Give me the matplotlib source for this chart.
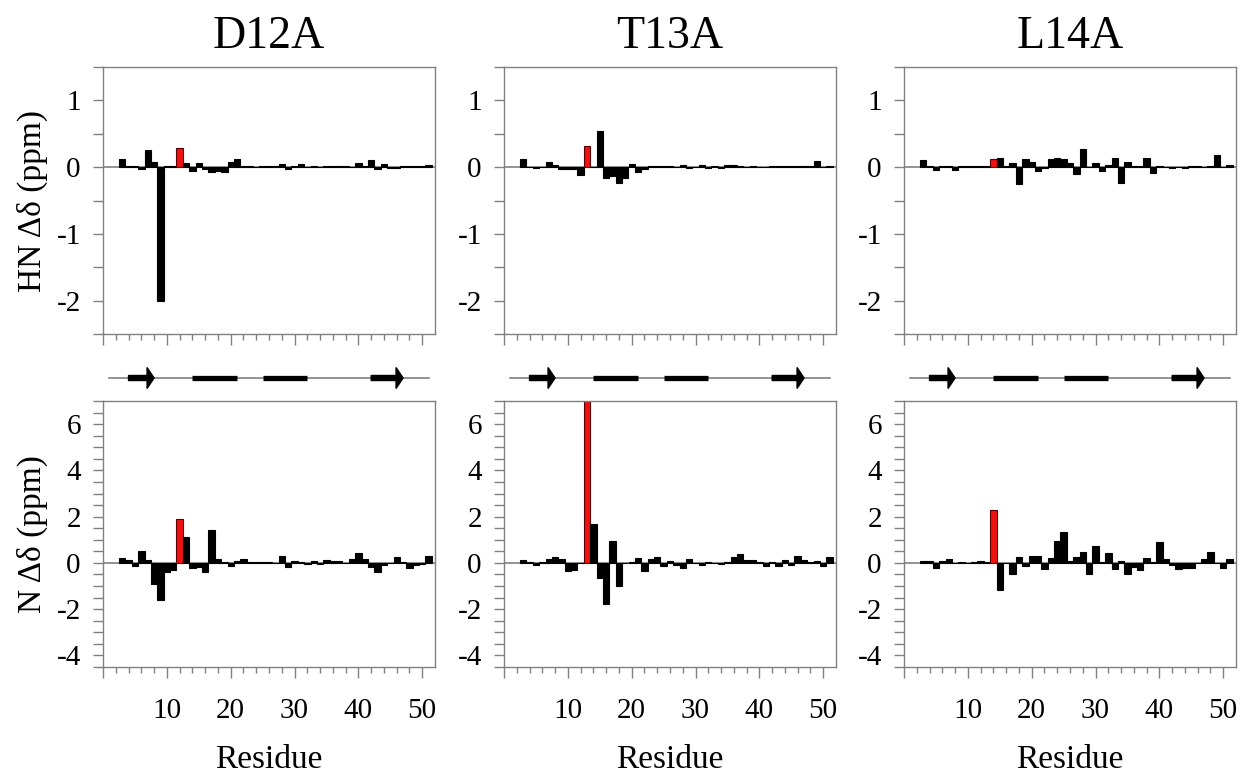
import numpy as np
import matplotlib
matplotlib.use("Agg")
import matplotlib.pyplot as plt
from matplotlib.ticker import MultipleLocator, FixedLocator

plt.rcParams['font.family'] = ['Liberation Serif', 'DejaVu Serif']
plt.rcParams['axes.unicode_minus'] = False  # plain hyphen like the original

# residues 3..51
residues = np.arange(3, 52)
mutants = ["D12A", "T13A", "L14A"]
mutated = [12, 13, 14]

hn_d12a = [0.12, 0.02, 0.01, -0.03, 0.255, 0.07, -2.0, 0.02, 0.01, 0.285,
           0.065, -0.055, 0.055, -0.03, -0.075, -0.055, -0.08, 0.075, 0.125, 0.02,
           0.02, 0.0, 0.01, 0.01, 0.01, 0.04, -0.03, 0.02, 0.04, 0.0,
           0.02, 0.0, 0.02, 0.02, 0.02, 0.02, 0.0, 0.055, 0.02, 0.1,
           -0.025, 0.04, -0.01, -0.01, 0.02, 0.02, 0.02, 0.01, 0.035]
hn_t13a = [0.125, 0.0, -0.015, 0.0, 0.07, 0.03, -0.03, -0.03, -0.03, -0.12,
           0.31, 0.0, 0.535, -0.165, -0.13, -0.24, -0.17, 0.04, -0.075, -0.025,
           0.02, 0.02, 0.02, 0.02, 0.0, 0.03, -0.02, 0.0, 0.03, -0.02,
           0.01, -0.02, 0.03, 0.03, 0.02, 0.0, 0.02, 0.0, 0.0, 0.02,
           0.02, 0.01, 0.01, 0.01, 0.01, 0.02, 0.09, 0.0, 0.02]
hn_l14a = [0.11, 0.02, -0.04, 0.01, 0.02, -0.04, 0.01, 0.01, 0.01, 0.01,
           0.02, 0.12, 0.13, 0.02, 0.055, -0.25, 0.125, 0.075, -0.065, -0.01,
           0.115, 0.13, 0.115, 0.065, -0.1, 0.27, 0.0, 0.055, -0.055, 0.035,
           0.14, -0.235, 0.08, 0.01, 0.01, 0.14, -0.085, 0.02, 0.0, -0.01,
           0.0, -0.01, 0.01, 0.02, 0.0, 0.01, 0.175, 0.0, 0.025]

n_d12a = [0.2, 0.145, -0.145, 0.53, 0.13, -0.91, -1.59, -0.40, -0.30, 1.88,
          1.11, -0.23, -0.17, -0.40, 1.41, 0.17, 0.03, -0.12, 0.09, 0.17,
          0.03, 0.02, 0.02, 0.02, 0.01, 0.32, -0.16, 0.1, 0.03, -0.04,
          0.09, -0.04, 0.13, 0.07, 0.07, 0.0, 0.17, 0.43, 0.17, -0.17,
          -0.40, -0.07, 0.0, 0.27, 0.06, -0.2, -0.07, -0.05, 0.29]
n_t13a = [0.13, 0.03, -0.1, 0.05, 0.17, 0.26, 0.17, -0.33, -0.30, 0.0,
          7.5, 1.70, -0.66, -1.77, 0.94, -1.01, 0.0, 0.03, 0.2, -0.35,
          0.17, 0.26, -0.12, 0.09, -0.09, -0.23, 0.17, 0.0, -0.09, 0.03,
          0.0, -0.04, 0.03, 0.27, 0.39, 0.13, 0.13, 0.03, -0.12, 0.03,
          -0.12, 0.14, -0.07, 0.29, 0.14, 0.03, 0.07, -0.12, 0.27]
n_l14a = [0.07, 0.1, -0.2, 0.07, 0.16, 0.0, 0.03, 0.0, 0.03, 0.09,
          0.03, 2.27, -1.18, 0.0, -0.48, 0.25, -0.14, 0.32, 0.30, -0.27,
          0.22, 0.94, 1.34, 0.07, 0.26, 0.46, -0.5, 0.71, 0.06, 0.42,
          -0.26, 0.1, -0.49, -0.17, -0.3, 0.2, 0.03, 0.92, 0.16, -0.09,
          -0.27, -0.2, -0.2, 0.0, 0.16, 0.46, 0.0, -0.2, 0.19]

hn_data = [hn_d12a, hn_t13a, hn_l14a]
n_data = [n_d12a, n_t13a, n_l14a]

# secondary structure (residue ranges)
strands = [(4, 8), (42, 47)]
helices = [(14, 21), (25, 32)]
chain = (1, 51)

grey = "#808080"
lefts = [103, 504, 904]
W, H = 1244, 776


def box(left, top, width, height):
    return [left / W, 1 - (top + height) / H, width / W, height / H]


def style(ax, ylim, major, labels_x):
    ax.set_xlim(0, 52)
    ax.set_ylim(*ylim)
    for s in ax.spines.values():
        s.set_color(grey)
        s.set_linewidth(1.0)
    ax.xaxis.set_major_locator(FixedLocator([0, 10, 20, 30, 40, 50]))
    ax.xaxis.set_minor_locator(FixedLocator(np.arange(0, 51, 2)))
    ax.yaxis.set_major_locator(MultipleLocator(major))
    ax.yaxis.set_minor_locator(MultipleLocator(0.5))
    ax.tick_params(axis='x', which='major', length=8, width=1, color=grey,
                   labelsize=21, pad=14)
    ax.tick_params(axis='x', which='minor', length=4.5, width=1, color=grey)
    ax.tick_params(axis='y', which='both', length=7, width=1, color=grey,
                   labelsize=21, pad=9)
    if labels_x:
        ax.set_xticklabels(["", "10", "20", "30", "40", "50"])
        ax.set_xlabel("Residue", fontsize=24, labelpad=15)
    else:
        ax.set_xticklabels([])
    ax.axhline(0, color=grey, lw=1.2, zorder=1)


def draw_bars(ax, vals, mut):
    colors = ["#ee1111" if r == mut else "black" for r in residues]
    edges = ["#5a0000" if r == mut else "black" for r in residues]
    ax.bar(residues, vals, width=1.0, color=colors, edgecolor=edges,
           linewidth=0.8, zorder=2)


def draw_ss(ax):
    ax.set_xlim(0, 52)
    ax.set_ylim(-1, 1)
    ax.axis('off')
    ax.plot(chain, [0, 0], color=grey, lw=1.2, zorder=1)
    for a, b in helices:
        ax.plot([a, b], [0, 0], color="black", lw=3.8, solid_capstyle='butt', zorder=2)
    for a, b in strands:
        ax.arrow(a, 0, b - a, 0, width=0.36, head_width=1.5, head_length=1.1,
                 length_includes_head=True, color="black", zorder=3)


fig = plt.figure(figsize=(12.44, 7.76), dpi=100)

for i in range(3):
    ax1 = fig.add_axes(box(lefts[i], 67, 332, 267))
    draw_bars(ax1, hn_data[i], mutated[i])
    style(ax1, (-2.5, 1.5), 1, False)
    ax1.set_title(mutants[i], fontsize=33, pad=14)

    ax_ss = fig.add_axes(box(lefts[i], 364, 332, 28))
    draw_ss(ax_ss)

    ax2 = fig.add_axes(box(lefts[i], 401, 332, 266))
    draw_bars(ax2, n_data[i], mutated[i])
    style(ax2, (-4.5, 7), 2, True)

    if i == 0:
        ax1.set_ylabel("HN \u0394\u03b4 (ppm)", fontsize=24, labelpad=6)
        ax2.set_ylabel("N \u0394\u03b4 (ppm)", fontsize=24, labelpad=6)

fig.savefig("out.png", dpi=100)
